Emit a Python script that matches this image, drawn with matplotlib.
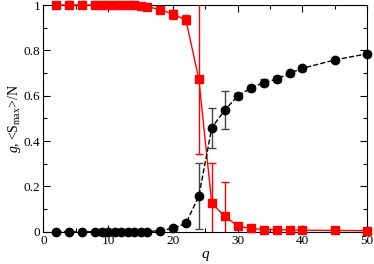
"""Order parameter g and largest cluster fraction vs q."""

import numpy as np
import matplotlib
matplotlib.use("Agg")
import matplotlib.pyplot as plt
from matplotlib.ticker import MultipleLocator

plt.rcParams["font.family"] = ["Liberation Serif", "DejaVu Serif"]
plt.rcParams["mathtext.fontset"] = "custom"
plt.rcParams["mathtext.rm"] = "Liberation Serif"
plt.rcParams["mathtext.it"] = "Liberation Serif:italic"

q = [2, 4, 6, 8, 9, 10, 11, 12, 13, 14, 15, 16, 18, 20, 22, 24, 26, 28,
     30, 32, 34, 36, 38, 40, 45, 50]

# g (black circles, dashed)
g = [0.0, 0.0, 0.0, 0.0, 0.0, 0.0, 0.0, 0.0, 0.0, 0.0, 0.0, 0.001, 0.005,
     0.015, 0.037, 0.158, 0.459, 0.537, 0.599, 0.633, 0.658, 0.673, 0.699,
     0.721, 0.758, 0.785]
g_err = [0, 0, 0, 0, 0, 0, 0, 0, 0, 0, 0, 0, 0.003, 0.005, 0.008, 0.145,
         0.088, 0.084, 0.015, 0.012, 0.015, 0.012, 0.012, 0.01, 0.008, 0.006]

# <S_max>/N (red squares, solid)
s = [1.0, 1.0, 1.0, 1.0, 1.0, 1.0, 0.999, 0.999, 0.998, 0.998, 0.997, 0.993,
     0.98, 0.96, 0.935, 0.673, 0.125, 0.069, 0.025, 0.015, 0.01, 0.009,
     0.008, 0.007, 0.006, 0.005]
s_err = [0, 0, 0, 0, 0, 0, 0, 0, 0, 0, 0, 0.003, 0.01, 0.02, 0.02, 0.33,
         0.18, 0.149, 0.01, 0.006, 0.005, 0.004, 0.004, 0.003, 0.003, 0.003]

fig = plt.figure(figsize=(3.74, 2.64), dpi=100)
ax = fig.add_axes([0.116, 0.122, 0.866, 0.859])

# error bars (clipped to the axes)
ax.errorbar(q, s, yerr=s_err, fmt="none", ecolor="red",
            elinewidth=1.0, capsize=3, zorder=3)
ax.errorbar(q, g, yerr=g_err, fmt="none", ecolor="#444444",
            elinewidth=1.0, capsize=3, zorder=4)
# lines + markers (not clipped, markers overhang the frame)
ax.plot(q, s, "s-", color="red", ms=5.5, lw=1.0, zorder=3, clip_on=False)
ax.plot(q, g, "o--", color="black", ms=6, lw=1.0, zorder=4, clip_on=False)

ax.set_xlim(0, 50)
ax.set_ylim(0, 1)
ax.xaxis.set_major_locator(MultipleLocator(10))
ax.xaxis.set_minor_locator(MultipleLocator(5))
ax.yaxis.set_minor_locator(MultipleLocator(0.1))
ax.set_yticks([0, 0.2, 0.4, 0.6, 0.8, 1.0])
ax.set_yticklabels(["0", "0.2", "0.4", "0.6", "0.8", "1"])
ax.tick_params(which="both", direction="in", top=True, right=True,
               labelsize=9.5, width=0.8)
ax.tick_params(which="major", length=5, pad=2)
ax.tick_params(which="minor", length=3)
for sp in ax.spines.values():
    sp.set_linewidth(0.8)

ax.set_xlabel(r"$q$", fontsize=11, labelpad=2)
ax.set_ylabel(r"$g$, <S$_{\rm max}$>/N", fontsize=10, labelpad=1)

fig.savefig("out.png", dpi=100)
